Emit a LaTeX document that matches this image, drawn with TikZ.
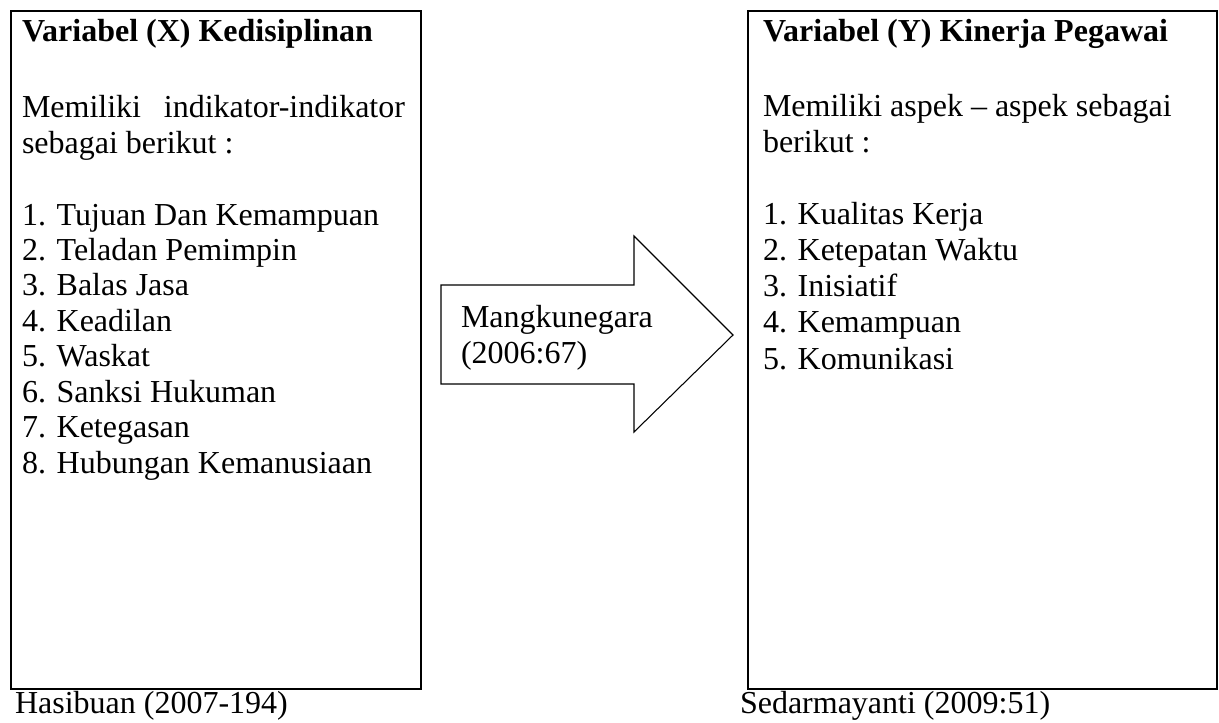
\documentclass[tikz,border=0pt]{standalone}
\usepackage{fontspec}
\setmainfont{Liberation Serif}
\begin{document}
\begin{tikzpicture}[x=0.75pt,y=-0.75pt,
  box/.style={draw=black,line width=1.6pt},
  arrowshape/.style={draw=black,line width=0.8pt,fill=white},
  txt/.style={anchor=base west,inner sep=0pt,outer sep=0pt,font=\fontsize{24}{28}\selectfont},
  ttl/.style={txt,font=\fontsize{24}{28}\selectfont\bfseries}]
\useasboundingbox (0,0) rectangle (1219,722);
% boxes
\draw[box] (11,11) rectangle (421,689);
\draw[box] (748,11) rectangle (1217,689);
% arrow
\draw[arrowshape] (441,285) -- (634,285) -- (634,236) -- (733,335) -- (634,432) -- (634,384) -- (441,384) -- cycle;
% left box text
\node[ttl] (lt) at (22,41) {Variabel (X) Kedisiplinan};
\node[txt] (l1a) at (22,117) {Memiliki};
\node[txt,anchor=base east] (l1b) at (405,117) {indikator-indikator};
\node[txt] (l2) at (22,153) {sebagai berikut :};
\node[txt] (l3) at (22,225) {1. Tujuan Dan Kemampuan};
\node[txt] (l4) at (22,260.4) {2. Teladan Pemimpin};
\node[txt] (l5) at (22,295.8) {3. Balas Jasa};
\node[txt] (l6) at (22,331.2) {4. Keadilan};
\node[txt] (l7) at (22,366.6) {5. Waskat};
\node[txt] (l8) at (22,402) {6. Sanksi Hukuman};
\node[txt] (l9) at (22,437.4) {7. Ketegasan};
\node[txt] (l10) at (22,473) {8. Hubungan Kemanusiaan};
% arrow text
\node[txt] (a1) at (461,327) {Mangkunegara};
\node[txt] (a2) at (461,363) {(2006:67)};
% right box text
\node[ttl] (rt) at (763,41) {Variabel (Y) Kinerja Pegawai};
\node[txt] (r1) at (763,116) {Memiliki aspek -- aspek sebagai};
\node[txt] (r2) at (763,152) {berikut :};
\node[txt] (r3) at (763,224) {1. Kualitas Kerja};
\node[txt] (r4) at (763,260) {2. Ketepatan Waktu};
\node[txt] (r5) at (763,296.5) {3. Inisiatif};
\node[txt] (r6) at (763,332.5) {4. Kemampuan};
\node[txt] (r7) at (763,369) {5. Komunikasi};
% sources
\node[txt] (s1) at (15,713) {Hasibuan (2007-194)};
\node[txt] (s2) at (740,713) {Sedarmayanti (2009:51)};
\end{tikzpicture}
\end{document}
